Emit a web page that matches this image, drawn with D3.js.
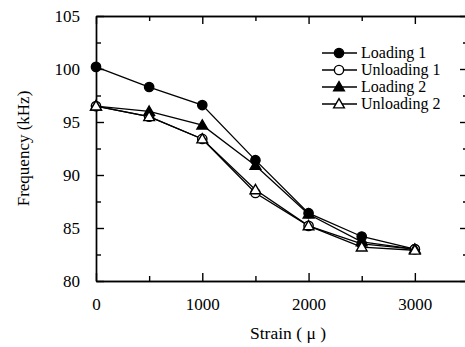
<!DOCTYPE html>
<html>
<head>
<meta charset="utf-8">
<script src="https://cdn.jsdelivr.net/npm/d3@7"></script>
<style>
  body { margin: 0; background: #fff; }
  svg { display: block; font-family: "Liberation Serif", "Times New Roman", serif; }
  .axis path, .axis line { stroke: #000; stroke-width: 1.4; }
  .axis text { font-family: "Liberation Serif", "Times New Roman", serif; font-size: 17px; fill: #000; }
</style>
</head>
<body>
<div id="chart"></div>
<script>
// strain values (micro-strain)
var strain = [0, 500, 1000, 1500, 2000, 2500, 3000];

// frequencies (kHz)
var loading1   = [100.2, 98.3, 96.6, 91.4, 86.4, 84.2, 83.0];
var unloading1 = [96.5, 95.5, 93.4, 88.3, 85.2, 83.5, 83.0];
var loading2   = [96.5, 96.0, 94.7, 90.9, 86.3, 83.7, 83.0];
var unloading2 = [96.5, 95.5, 93.4, 88.6, 85.2, 83.2, 82.9];

var seriesNames = ["Loading 1", "Unloading 1", "Loading 2", "Unloading 2"];
var yMajor = [80, 85, 90, 95, 100, 105];
var yMinor = [82.5, 87.5, 92.5, 97.5, 102.5];
var xMajor = [0, 1000, 2000, 3000];
var xMinor = [500, 1500, 2500, 3500];

var W = 465, H = 347;
var mLeft = 96, mRight = 468, mTop = 16, mBottom = 281;

var svg = d3.select("#chart").append("svg")
  .attr("width", W)
  .attr("height", H);

var x = d3.scaleLinear().domain([0, 3500]).range([mLeft, mRight]);
var y = d3.scaleLinear().domain([80, 105]).range([mBottom, mTop]);

// frame + ticks (ticks point inward)
svg.append("g").attr("class", "axis")
  .attr("transform", "translate(0," + mBottom + ")")
  .call(d3.axisBottom(x).tickValues(xMajor).tickSize(-8).tickSizeOuter(0).tickPadding(17).tickFormat(d3.format("d")));
svg.append("g").attr("class", "axis")
  .attr("transform", "translate(0," + mBottom + ")")
  .call(d3.axisBottom(x).tickValues(xMinor).tickSize(-5).tickSizeOuter(0).tickFormat(""));
svg.append("g").attr("class", "axis")
  .attr("transform", "translate(0," + mTop + ")")
  .call(d3.axisTop(x).tickValues(xMajor).tickSize(-8).tickSizeOuter(0).tickFormat(""));
svg.append("g").attr("class", "axis")
  .attr("transform", "translate(0," + mTop + ")")
  .call(d3.axisTop(x).tickValues(xMinor).tickSize(-5).tickSizeOuter(0).tickFormat(""));

svg.append("g").attr("class", "axis")
  .attr("transform", "translate(" + mLeft + ",0)")
  .call(d3.axisLeft(y).tickValues(yMajor).tickSize(-8).tickSizeOuter(0).tickPadding(16));
svg.append("g").attr("class", "axis")
  .attr("transform", "translate(" + mLeft + ",0)")
  .call(d3.axisLeft(y).tickValues(yMinor).tickSize(-5).tickSizeOuter(0).tickFormat(""));
svg.append("g").attr("class", "axis")
  .attr("transform", "translate(" + mRight + ",0)")
  .call(d3.axisRight(y).tickValues(yMajor).tickSize(-8).tickSizeOuter(0).tickFormat(""));
svg.append("g").attr("class", "axis")
  .attr("transform", "translate(" + mRight + ",0)")
  .call(d3.axisRight(y).tickValues(yMinor).tickSize(-5).tickSizeOuter(0).tickFormat(""));

// axis titles
svg.append("text")
  .attr("x", 288).attr("y", 339)
  .attr("text-anchor", "middle")
  .style("font-size", "17.5px")
  .text("Strain ( \u03bc )");

svg.append("text")
  .attr("transform", "translate(29," + ((mTop + mBottom) / 2) + ") rotate(-90)")
  .attr("text-anchor", "middle")
  .style("font-size", "17px")
  .text("Frequency (kHz)");

var series = [
  { name: seriesNames[0], values: loading1,   shape: "circle",   fill: "#000" },
  { name: seriesNames[1], values: unloading1, shape: "circle",   fill: "#fff" },
  { name: seriesNames[2], values: loading2,   shape: "triangle", fill: "#000" },
  { name: seriesNames[3], values: unloading2, shape: "triangle", fill: "#fff" }
];

var line = d3.line()
  .x(function(d, i) { return x(strain[i]); })
  .y(function(d) { return y(d); });

var symCircle = d3.symbol().type(d3.symbolCircle).size(68);
var symTri = d3.symbol().type(d3.symbolTriangle).size(50);

function drawMarker(g, s, px, py) {
  g.append("path")
    .attr("d", s.shape === "circle" ? symCircle() : symTri())
    .attr("transform", "translate(" + px + "," + (s.shape === "circle" ? py : py + 0.8) + ")")
    .attr("fill", s.fill)
    .attr("stroke", "#000")
    .attr("stroke-width", 1.4);
}

// lines first
svg.selectAll(".series-line")
  .data(series).enter()
  .append("path")
  .attr("class", "series-line")
  .attr("fill", "none")
  .attr("stroke", "#000")
  .attr("stroke-width", 1.3)
  .attr("d", function(d) { return line(d.values); });

// markers on top
series.forEach(function(s) {
  var g = svg.append("g");
  s.values.forEach(function(v, i) {
    drawMarker(g, s, x(strain[i]), y(v));
  });
});

// legend
var legend = svg.append("g").attr("transform", "translate(322,53)");
series.forEach(function(s, i) {
  var row = legend.append("g").attr("transform", "translate(0," + (i * 17) + ")");
  row.append("line")
    .attr("x1", 0).attr("x2", 35)
    .attr("y1", 0).attr("y2", 0)
    .attr("stroke", "#000")
    .attr("stroke-width", 1.3);
  drawMarker(row, s, 17, 0);
  row.append("text")
    .attr("x", 39).attr("y", 0)
    .attr("dy", "0.33em")
    .style("font-size", "16px")
    .text(s.name);
});
</script>
</body>
</html>
